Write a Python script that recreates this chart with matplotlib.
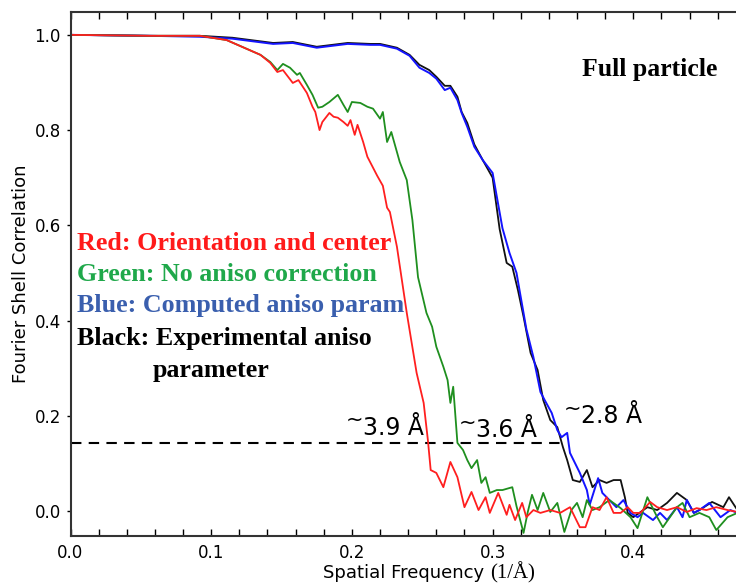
import matplotlib
matplotlib.use('Agg')
import matplotlib.pyplot as plt
import numpy as np
from matplotlib.ticker import MultipleLocator

# FSC curves, spatial frequency in 1/A
red_freq = [0.000, 0.0565, 0.092, 0.111, 0.135, 0.142, 0.147, 0.151, 0.158, 0.162, 0.168, 0.172, 0.174,
            0.177, 0.179, 0.184, 0.187, 0.190, 0.194, 0.197, 0.199, 0.202, 0.204, 0.208, 0.211, 0.218,
            0.222, 0.225, 0.227, 0.232, 0.239, 0.246, 0.251, 0.254, 0.256, 0.260, 0.265, 0.270, 0.275,
            0.280, 0.285, 0.290, 0.295, 0.298, 0.304, 0.310, 0.312, 0.316, 0.321, 0.324, 0.329, 0.334,
            0.341, 0.348, 0.355, 0.362, 0.366, 0.371, 0.376, 0.381, 0.386, 0.391, 0.396, 0.400, 0.405,
            0.412, 0.417, 0.424, 0.431, 0.438, 0.445, 0.452, 0.459, 0.467, 0.474]
red_fsc = [1.000, 0.998, 0.998, 0.989, 0.958, 0.941, 0.922, 0.926, 0.899, 0.905, 0.878, 0.849, 0.838,
           0.800, 0.817, 0.836, 0.828, 0.826, 0.817, 0.809, 0.821, 0.790, 0.811, 0.775, 0.744, 0.704,
           0.683, 0.637, 0.628, 0.555, 0.416, 0.290, 0.227, 0.149, 0.086, 0.080, 0.050, 0.103, 0.071,
           0.008, 0.040, 0.002, 0.029, -0.004, 0.038, -0.008, 0.013, -0.019, 0.017, -0.013, 0.002, -0.004,
           0.002, -0.004, 0.008, -0.034, -0.034, 0.008, 0.002, 0.029, -0.004, -0.004, 0.008, -0.004, -0.004,
           0.019, 0.008, 0.002, 0.008, -0.002, 0.006, 0.002, 0.008, 0.002, -0.002]

green_freq = [0.000, 0.0565, 0.092, 0.111, 0.135, 0.142, 0.147, 0.151, 0.156, 0.161, 0.163, 0.168, 0.172,
              0.176, 0.179, 0.184, 0.190, 0.194, 0.197, 0.200, 0.206, 0.211, 0.215, 0.220, 0.222, 0.225,
              0.228, 0.234, 0.239, 0.243, 0.247, 0.253, 0.257, 0.260, 0.265, 0.268, 0.270, 0.272, 0.275,
              0.279, 0.282, 0.285, 0.289, 0.292, 0.295, 0.298, 0.303, 0.307, 0.314, 0.317, 0.322, 0.325,
              0.328, 0.332, 0.336, 0.341, 0.346, 0.351, 0.356, 0.360, 0.364, 0.367, 0.371, 0.376, 0.383,
              0.391, 0.398, 0.403, 0.410, 0.417, 0.421, 0.426, 0.431, 0.435, 0.440, 0.447, 0.454, 0.459,
              0.467, 0.474]
green_fsc = [1.000, 0.998, 0.998, 0.989, 0.958, 0.943, 0.926, 0.939, 0.931, 0.916, 0.920, 0.895, 0.874,
             0.847, 0.849, 0.859, 0.874, 0.853, 0.838, 0.859, 0.857, 0.849, 0.845, 0.824, 0.838, 0.775,
             0.796, 0.733, 0.695, 0.611, 0.491, 0.416, 0.387, 0.345, 0.303, 0.275, 0.227, 0.261, 0.143,
             0.128, 0.107, 0.090, 0.107, 0.059, 0.071, 0.038, 0.044, 0.044, 0.050, 0.010, -0.046, -0.002,
             0.034, 0.002, 0.038, -0.002, 0.017, -0.044, 0.002, 0.017, -0.013, 0.023, 0.002, 0.008, 0.023,
             0.006, -0.013, -0.036, 0.029, -0.013, -0.034, -0.013, 0.008, 0.017, -0.013, -0.004, -0.013, -0.040,
             -0.013, -0.004]

blue_freq = [0.000, 0.0565, 0.092, 0.115, 0.144, 0.158, 0.175, 0.197, 0.213, 0.220, 0.232, 0.241, 0.248,
             0.255, 0.260, 0.266, 0.270, 0.275, 0.278, 0.282, 0.287, 0.293, 0.300, 0.303, 0.307, 0.312,
             0.317, 0.319, 0.324, 0.329, 0.334, 0.337, 0.342, 0.346, 0.349, 0.353, 0.355, 0.362, 0.367,
             0.369, 0.375, 0.378, 0.383, 0.388, 0.393, 0.398, 0.403, 0.407, 0.414, 0.419, 0.424, 0.431,
             0.435, 0.438, 0.443, 0.447, 0.454, 0.462, 0.469, 0.474]
blue_fsc = [1.000, 0.998, 0.996, 0.992, 0.981, 0.983, 0.973, 0.981, 0.979, 0.979, 0.971, 0.956, 0.931,
            0.920, 0.908, 0.884, 0.889, 0.863, 0.836, 0.807, 0.765, 0.737, 0.710, 0.660, 0.594, 0.542,
            0.500, 0.466, 0.382, 0.323, 0.250, 0.233, 0.206, 0.170, 0.155, 0.164, 0.122, 0.080, 0.044,
            0.013, 0.069, 0.038, 0.023, 0.008, 0.023, -0.004, -0.013, -0.004, -0.019, -0.004, -0.019, 0.008,
            -0.013, 0.023, -0.004, 0.002, 0.017, -0.013, 0.002, -0.004]

black_freq = [0.000, 0.0565, 0.092, 0.115, 0.144, 0.158, 0.175, 0.197, 0.213, 0.220, 0.232, 0.241, 0.248,
              0.255, 0.260, 0.266, 0.270, 0.275, 0.278, 0.282, 0.287, 0.293, 0.300, 0.305, 0.310, 0.314,
              0.318, 0.322, 0.327, 0.332, 0.336, 0.341, 0.346, 0.350, 0.353, 0.357, 0.362, 0.367, 0.371,
              0.376, 0.381, 0.386, 0.391, 0.394, 0.396, 0.400, 0.410, 0.417, 0.424, 0.431, 0.438, 0.443,
              0.447, 0.456, 0.464, 0.468, 0.474]
black_fsc = [1.000, 0.998, 0.998, 0.994, 0.983, 0.985, 0.975, 0.983, 0.981, 0.981, 0.973, 0.958, 0.937,
             0.926, 0.912, 0.893, 0.893, 0.870, 0.838, 0.815, 0.770, 0.737, 0.700, 0.592, 0.521, 0.513,
             0.464, 0.408, 0.332, 0.296, 0.233, 0.191, 0.176, 0.134, 0.107, 0.065, 0.061, 0.086, 0.050,
             0.065, 0.059, 0.065, 0.065, 0.029, -0.004, -0.013, 0.008, 0.002, 0.017, 0.038, 0.023, -0.004,
             0.002, 0.019, 0.008, 0.029, 0.002]

threshold = 0.143
threshold_end = 0.3515

legend_lines = ['Red: Orientation and center', 'Green: No aniso correction',
                'Blue: Computed aniso param', 'Black: Experimental aniso', 'parameter']
legend_colors = ['#ff1a1a', '#1fa84a', '#3a5fae', 'black', 'black']
resolution_labels = ['3.9 \u00c5', '3.6 \u00c5', '2.8 \u00c5']

fig = plt.figure(figsize=(7.36, 5.83), dpi=100)
ax = fig.add_axes([70.5 / 736, 47 / 583, 703.5 / 736, 524 / 583])

ax.plot([0, threshold_end], [threshold, threshold], color='black', lw=1.5, ls=(0, (5, 3.5)))
ax.plot(black_freq, black_fsc, color='#111111', lw=1.3)
ax.plot(blue_freq, blue_fsc, color='#1414ff', lw=1.4)
ax.plot(green_freq, green_fsc, color='#1f8f1f', lw=1.3)
ax.plot(red_freq, red_fsc, color='#ff1f1f', lw=1.3)

ax.set_xlim(0, 0.5)
ax.set_ylim(-0.0525, 1.048)
ax.xaxis.set_major_locator(MultipleLocator(0.1))
ax.xaxis.set_minor_locator(MultipleLocator(0.02))
ax.yaxis.set_major_locator(MultipleLocator(0.2))
ax.tick_params(axis='x', which='both', direction='in', top=True, length=5, width=1, labelsize=12, pad=6)
ax.tick_params(axis='y', which='both', direction='out', length=3, width=1, labelsize=12, pad=4)
ax.set_xticks([0.0, 0.1, 0.2, 0.3, 0.4])
ax.set_xticklabels(['0.0', '0.1', '0.2', '0.3', '0.4'])
for s in ax.spines.values():
    s.set_color('#333333')
    s.set_linewidth(1.5)

ax.set_ylabel('Fourier Shell Correlation', fontsize=13, labelpad=3)
fig.text(323 / 736, 5 / 583, 'Spatial Frequency', fontsize=13, va='baseline', ha='left')
fig.text(490 / 736, 5 / 583, '(1/\u00c5)', fontsize=15, family='Liberation Serif', va='baseline', ha='left')

serif = dict(family='Liberation Serif', weight='bold')
ax.text(0.4115, 0.914, 'Full particle', color='black', ha='center', va='baseline', fontsize=18.5, **serif)

legend_x = [0.0046, 0.0046, 0.0046, 0.0046, 0.0586]
legend_y = [0.548, 0.483, 0.418, 0.349, 0.282]
for txt, c, lx, ly in zip(legend_lines, legend_colors, legend_x, legend_y):
    ax.text(lx, ly, txt, color=c, va='baseline', ha='left', fontsize=18.7, **serif)

# resolution estimates: raised tilde followed by the value
label_x = [0.1965, 0.2769, 0.3514]
label_y = [0.160, 0.155, 0.185]
for txt, lx, ly in zip(resolution_labels, label_x, label_y):
    ax.text(lx - 0.001, ly + 0.018, '~', fontsize=15, va='baseline', ha='left', color='black')
    ax.text(lx + 0.0112, ly, txt, fontsize=17, va='baseline', ha='left', color='black')

plt.savefig('out.png', dpi=100)
